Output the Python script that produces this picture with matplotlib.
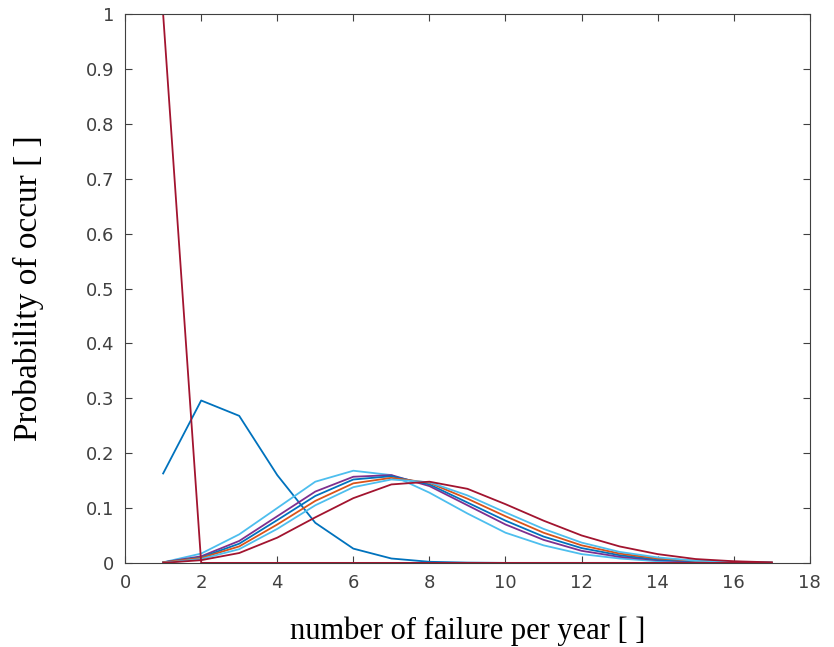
import numpy as np
import matplotlib.pyplot as plt

x = np.arange(1, 18)

# lambda ~ 0 curve
p_red0 = [1.0, 0, 0, 0, 0, 0, 0, 0, 0, 0, 0, 0, 0, 0, 0, 0, 0]
# low-rate curve
p_blue0 = [0.163, 0.296, 0.268, 0.160, 0.073, 0.026, 0.008, 0.002, 0.0005, 0, 0, 0, 0, 0, 0, 0, 0]
# cluster of curves
p_cyan1 = [0.001, 0.017, 0.052, 0.100, 0.148, 0.168, 0.160, 0.128, 0.090, 0.055, 0.032, 0.016, 0.008, 0.003, 0.001, 0.0005, 0]
p_purple = [0.001, 0.012, 0.040, 0.085, 0.130, 0.157, 0.160, 0.140, 0.105, 0.070, 0.042, 0.022, 0.011, 0.005, 0.002, 0.001, 0]
p_blue1 = [0.001, 0.010, 0.035, 0.078, 0.122, 0.152, 0.158, 0.143, 0.110, 0.077, 0.048, 0.027, 0.014, 0.006, 0.003, 0.001, 0]
p_orange = [0.001, 0.009, 0.030, 0.070, 0.113, 0.145, 0.155, 0.146, 0.117, 0.085, 0.055, 0.032, 0.017, 0.008, 0.004, 0.002, 0.001]
p_cyan2 = [0.0, 0.007, 0.025, 0.062, 0.105, 0.138, 0.152, 0.147, 0.123, 0.092, 0.062, 0.037, 0.020, 0.010, 0.004, 0.002, 0.001]
p_red1 = [0.0, 0.005, 0.018, 0.046, 0.083, 0.118, 0.143, 0.148, 0.135, 0.107, 0.077, 0.050, 0.030, 0.016, 0.007, 0.003, 0.001]

c_blue = (0, 0.447, 0.741)
c_orange = (0.85, 0.325, 0.098)
c_purple = (0.494, 0.184, 0.556)
c_cyan = (0.301, 0.745, 0.933)
c_red = (0.635, 0.078, 0.184)

fig = plt.figure(figsize=(8.34, 6.47), dpi=100)
ax = fig.add_axes([0.150, 0.130, 0.821, 0.848])

ax.plot(x, p_blue0, color=c_blue, lw=1.3)
ax.plot(x, p_cyan1, color=c_cyan, lw=1.3)
ax.plot(x, p_purple, color=c_purple, lw=1.3)
ax.plot(x, p_blue1, color=c_blue, lw=1.3)
ax.plot(x, p_orange, color=c_orange, lw=1.3)
ax.plot(x, p_cyan2, color=c_cyan, lw=1.3)
ax.plot(x, p_red1, color=c_red, lw=1.3)
ax.plot(x, p_red0, color=c_red, lw=1.3)

ax.set_xlim(0, 18)
ax.set_ylim(0, 1)
ax.set_xticks(np.arange(0, 19, 2))
ax.set_yticks(np.arange(0, 1.01, 0.1))
ax.set_yticklabels(['0'] + ['%.1f' % v for v in np.arange(0.1, 0.95, 0.1)] + ['1'])

gray = (0.25, 0.25, 0.25)
ax.tick_params(direction='in', length=5, width=0.8, top=True, right=True,
               labelsize=13, colors=gray, pad=8)
for s in ax.spines.values():
    s.set_color(gray)
    s.set_linewidth(0.8)

ax.set_xlabel('number of failure per year [ ]', family='Liberation Serif', fontsize=22, color='black')
ax.set_ylabel('Probability of occur [ ]', family='Liberation Serif', fontsize=24, color='black')
ax.xaxis.set_label_coords(0.5, -0.098)
ax.yaxis.set_label_coords(-0.118, 0.5)

fig.savefig('out.png', dpi=100)
